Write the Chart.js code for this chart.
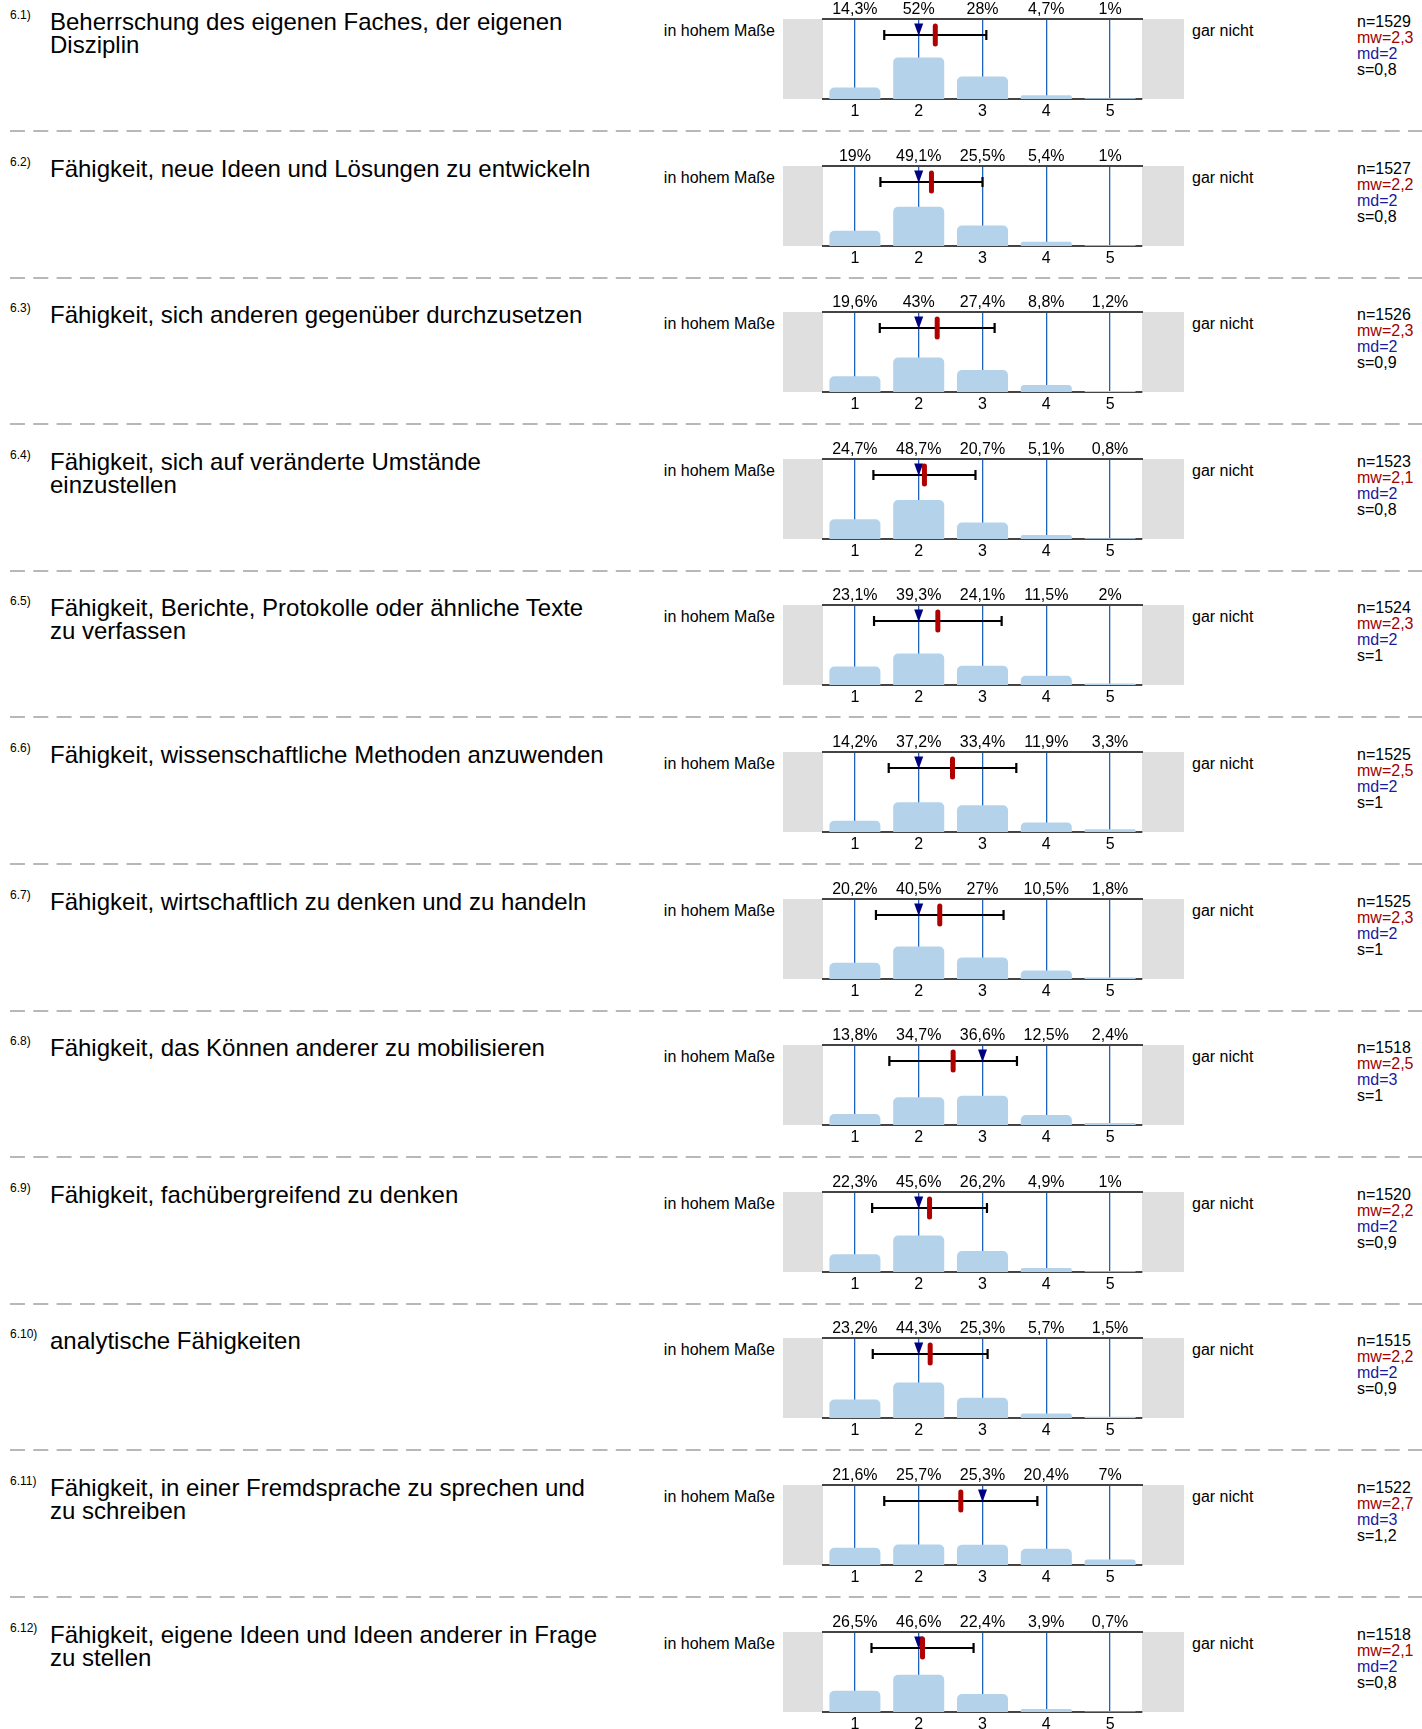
<!DOCTYPE html>
<html>
<head>
<meta charset="utf-8">
<script src="https://cdn.jsdelivr.net/npm/chart.js@4.4.0/dist/chart.umd.min.js"></script>
<style>
  body { margin: 0; background: #fff; }
  #page { position: relative; width: 1422px; height: 1729px; overflow: hidden; font-family: "Liberation Sans", Arial, sans-serif; color: #000; }
  .num { position: absolute; left: 10px; font-size: 12px; line-height: 12px; white-space: nowrap; }
  .title { position: absolute; left: 50px; font-size: 24px; line-height: 23px; white-space: nowrap; }
  .lab { position: absolute; font-size: 16px; line-height: 16px; white-space: nowrap; }
  .stats { position: absolute; left: 1357px; font-size: 16px; line-height: 16px; white-space: nowrap; }
  .mw { color: #a00000; }
  .md { color: #1a1a9c; }
  canvas { position: absolute; left: 783px; }
  svg { position: absolute; left: 0; }
</style>
</head>
<body>
<div id="page"></div>
<script>
var itemNumbers = ['6.1)', '6.2)', '6.3)', '6.4)', '6.5)', '6.6)', '6.7)', '6.8)', '6.9)', '6.10)', '6.11)', '6.12)'];
var itemTitles = [
  ['Beherrschung des eigenen Faches, der eigenen', 'Disziplin'],
  ['Fähigkeit, neue Ideen und Lösungen zu entwickeln'],
  ['Fähigkeit, sich anderen gegenüber durchzusetzen'],
  ['Fähigkeit, sich auf veränderte Umstände', 'einzustellen'],
  ['Fähigkeit, Berichte, Protokolle oder ähnliche Texte', 'zu verfassen'],
  ['Fähigkeit, wissenschaftliche Methoden anzuwenden'],
  ['Fähigkeit, wirtschaftlich zu denken und zu handeln'],
  ['Fähigkeit, das Können anderer zu mobilisieren'],
  ['Fähigkeit, fachübergreifend zu denken'],
  ['analytische Fähigkeiten'],
  ['Fähigkeit, in einer Fremdsprache zu sprechen und', 'zu schreiben'],
  ['Fähigkeit, eigene Ideen und Ideen anderer in Frage', 'zu stellen']
];
var categories = ['1', '2', '3', '4', '5'];
var percents = [
  [14.3, 52, 28, 4.7, 1],
  [19, 49.1, 25.5, 5.4, 1],
  [19.6, 43, 27.4, 8.8, 1.2],
  [24.7, 48.7, 20.7, 5.1, 0.8],
  [23.1, 39.3, 24.1, 11.5, 2],
  [14.2, 37.2, 33.4, 11.9, 3.3],
  [20.2, 40.5, 27, 10.5, 1.8],
  [13.8, 34.7, 36.6, 12.5, 2.4],
  [22.3, 45.6, 26.2, 4.9, 1],
  [23.2, 44.3, 25.3, 5.7, 1.5],
  [21.6, 25.7, 25.3, 20.4, 7],
  [26.5, 46.6, 22.4, 3.9, 0.7]
];
var counts = [1529, 1527, 1526, 1523, 1524, 1525, 1525, 1518, 1520, 1515, 1522, 1518];
var means = [2.26, 2.2, 2.29, 2.09, 2.3, 2.53, 2.33, 2.54, 2.17, 2.18, 2.66, 2.06];
var medians = [2, 2, 2, 2, 2, 2, 2, 3, 2, 2, 3, 2];
var stdDevs = [0.8, 0.8, 0.9, 0.8, 1, 1, 1, 1, 0.9, 0.9, 1.2, 0.8];
var leftLabel = 'in hohem Maße';
var rightLabel = 'gar nicht';

var ROW = 146.6;
var FONT = '"Liberation Sans", Arial, sans-serif';
Chart.defaults.font.family = FONT;

function de(v) { return String(v).replace('.', ','); }

var markerPlugin = {
  id: 'markers',
  beforeDraw: function(chart) {
    var a = chart.chartArea, ctx = chart.ctx;
    ctx.save();
    ctx.fillStyle = '#dfdfdf';
    ctx.fillRect(0, a.top, a.left, a.bottom - a.top);
    ctx.fillRect(a.right, a.top, chart.width - a.right, a.bottom - a.top);
    ctx.restore();
  },
  afterDraw: function(chart, args, opts) {
    var ctx = chart.ctx, xs = chart.scales.x, a = chart.chartArea;
    var yc = a.top + 16;
    var lo = xs.getPixelForValue(opts.mean - opts.sd - 1);
    var hi = xs.getPixelForValue(opts.mean + opts.sd - 1);
    ctx.save();
    ctx.strokeStyle = '#000';
    ctx.lineWidth = 2.2;
    ctx.beginPath();
    ctx.moveTo(lo, yc); ctx.lineTo(hi, yc);
    ctx.moveTo(lo, yc - 5); ctx.lineTo(lo, yc + 5);
    ctx.moveTo(hi, yc - 5); ctx.lineTo(hi, yc + 5);
    ctx.stroke();
    var mx = xs.getPixelForValue(opts.median - 1);
    ctx.fillStyle = '#000080';
    ctx.beginPath();
    ctx.moveTo(mx - 4.5, a.top + 4.5);
    ctx.lineTo(mx + 4.5, a.top + 4.5);
    ctx.lineTo(mx, a.top + 17);
    ctx.closePath();
    ctx.fill();
    var ax = xs.getPixelForValue(opts.mean - 1);
    ctx.fillStyle = '#b00000';
    ctx.beginPath();
    ctx.roundRect(ax - 2.5, yc - 11.5, 5, 23, 2.5);
    ctx.fill();
    ctx.restore();
  }
};

var page = document.getElementById('page');

function addDiv(cls, left, top, html) {
  var d = document.createElement('div');
  d.className = cls;
  if (left !== null) d.style.left = left + 'px';
  d.style.top = top + 'px';
  d.innerHTML = html;
  page.appendChild(d);
  return d;
}

itemTitles.forEach(function(lines, i) {
  var T = Math.round(i * ROW);

  addDiv('num', null, T + 9, itemNumbers[i]);
  addDiv('title', null, T + 10, lines.join('<br>'));

  var l = addDiv('lab', null, T + 23, leftLabel);
  l.style.right = (1422 - 775) + 'px';
  addDiv('lab', 1192, T + 23, rightLabel);

  addDiv('stats', null, T + 14,
    'n=' + counts[i] + '<br>' +
    '<span class="mw">mw=' + de(means[i].toFixed(1)) + '</span><br>' +
    '<span class="md">md=' + de(medians[i]) + '</span><br>' +
    's=' + de(stdDevs[i]));

  if (i < itemTitles.length - 1) {
    var svg = document.createElementNS('http://www.w3.org/2000/svg', 'svg');
    svg.setAttribute('width', '1422');
    svg.setAttribute('height', '4');
    svg.style.top = (T + 129) + 'px';
    svg.innerHTML = '<line x1="10" y1="2" x2="1422" y2="2" stroke="#b8b8b8" stroke-width="2" stroke-dasharray="15 8.3"/>';
    page.appendChild(svg);
  }

  var cv = document.createElement('canvas');
  cv.width = 401;
  cv.height = 131;
  cv.style.top = T + 'px';
  page.appendChild(cv);

  var pctLabels = percents[i].map(function(p) { return de(p) + '%'; });

  new Chart(cv.getContext('2d'), {
    type: 'bar',
    data: {
      labels: categories,
      datasets: [{
        data: percents[i],
        backgroundColor: '#b4d3ea',
        borderRadius: 5,
        borderSkipped: 'start',
        barPercentage: 0.8,
        categoryPercentage: 1
      }]
    },
    options: {
      responsive: false,
      animation: false,
      events: [],
      layout: { padding: { left: 40, right: 42, top: 0, bottom: 0 } },
      plugins: {
        legend: { display: false },
        tooltip: { enabled: false },
        markers: { mean: means[i], sd: stdDevs[i], median: medians[i] }
      },
      scales: {
        x: {
          type: 'category',
          position: 'bottom',
          offset: true,
          z: 1,
          grid: { offset: false, color: '#1c64c0', lineWidth: 1.3, drawTicks: false },
          border: { display: true, color: '#444', width: 2 },
          ticks: { color: '#000', padding: 5, maxRotation: 0, autoSkip: false, font: { size: 16, lineHeight: 1 } },
          afterFit: function(s) { s.height = 32; }
        },
        x2: {
          type: 'category',
          position: 'top',
          offset: true,
          labels: pctLabels,
          grid: { display: false, drawTicks: false },
          border: { display: true, color: '#444', width: 2 },
          ticks: { color: '#000', padding: 1, maxRotation: 0, autoSkip: false, font: { size: 16, lineHeight: 1 } },
          afterFit: function(s) { s.height = 19; }
        },
        y: { display: false, min: 0, max: 100 }
      }
    },
    plugins: [markerPlugin]
  });
});
</script>
</body>
</html>
